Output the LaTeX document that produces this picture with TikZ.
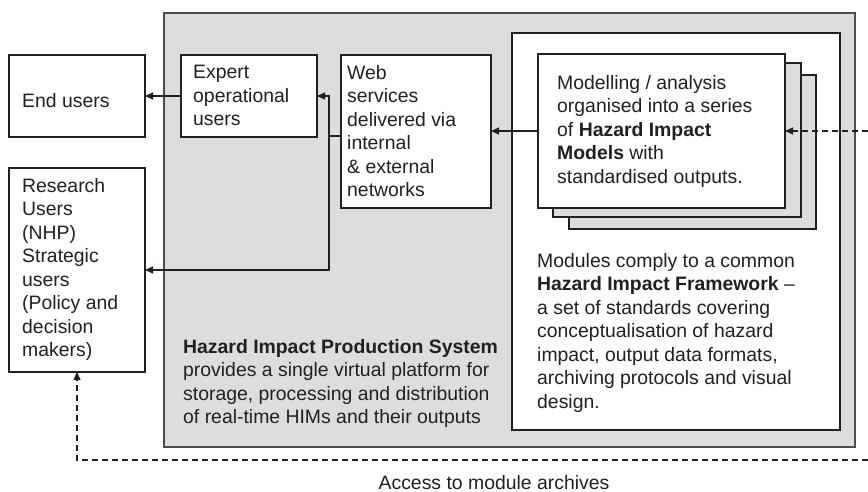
\documentclass[tikz,border=0pt]{standalone}
\usepackage{fontspec}
\setmainfont{Liberation Sans}
\usetikzlibrary{arrows.meta}
\definecolor{panel}{RGB}{220,221,223}
\definecolor{ink}{RGB}{35,31,32}
\begin{document}
\begin{tikzpicture}[x=1pt,y=-1pt,
 box/.style={draw=ink,line width=1.1pt,fill=white,anchor=north west,inner sep=0pt,outer sep=0pt,rectangle},
 txt/.style={anchor=north west,inner sep=0pt,align=left,font=\fontsize{19.4}{23.5}\selectfont,text=ink},
 conn/.style={draw=ink,line width=1.1pt,-{Triangle[length=8pt,width=7pt]}},
 dconn/.style={conn,dash pattern=on 6pt off 4pt}]
\useasboundingbox (0,0) rectangle (868,491);
% panels
\node[box,fill=panel,draw=ink!80,minimum width=691pt,minimum height=434pt] (panel) at (164,13) {};
\node[box,minimum width=328pt,minimum height=397pt] (inner) at (512,33) {};
\node[box,fill=panel,minimum width=247pt,minimum height=154pt] (back) at (569,75) {};
\node[box,fill=panel,minimum width=248pt,minimum height=154pt] (mid) at (553,63) {};
\node[box,minimum width=247pt,minimum height=154pt] (front) at (538,54) {};
\node[box,minimum width=136pt,minimum height=82pt] (end) at (9,55) {};
\node[box,minimum width=136pt,minimum height=204pt] (research) at (9,168) {};
\node[box,minimum width=136pt,minimum height=82pt] (expert) at (181,55) {};
\node[box,minimum width=150pt,minimum height=153pt] (web) at (341,55) {};
% texts
\node[txt] (tend) at (22,93) {End users};
\node[txt] (texpert) at (193,65) {Expert\\operational\\users};
\node[txt] (tweb) at (347,65) {Web\\services\\delivered via\\internal\\\& external\\networks};
\node[txt] (tresearch) at (22,178) {Research\\Users\\(NHP)\\Strategic\\users\\(Policy and\\decision\\makers)};
\node[txt] (tfront) at (557,75) {Modelling / analysis\\organised into a series\\of \textbf{Hazard Impact}\\\textbf{Models} with\\standardised outputs.};
\node[txt] (tmod) at (537,253) {Modules comply to a common\\\textbf{Hazard Impact Framework} --\\a set of standards covering\\conceptualisation of hazard\\impact, output data formats,\\archiving protocols and visual\\design.};
\node[txt] (thips) at (183,339) {\textbf{Hazard Impact Production System}\\provides a single virtual platform for\\storage, processing and distribution\\of real-time HIMs and their outputs};
\node[txt,anchor=center] (taccess) at (494,482.5) {Access to module archives};
% connectors
\coordinate (j) at (329,136);
\coordinate (rin) at (868,131);
\coordinate (bin) at (868,460);
\draw[conn] (expert) -- (end);
\draw[conn] ([yshift=-4.5pt]web.west) -- (j) |- (expert.east);
\draw[conn] (j) |- (research.east);
\draw[conn] (front.west) -- (web.east |- front.west);
\draw[dconn] (rin) -- (front.east);
\draw[dconn] (bin) -| (research.south);
\end{tikzpicture}
\end{document}
